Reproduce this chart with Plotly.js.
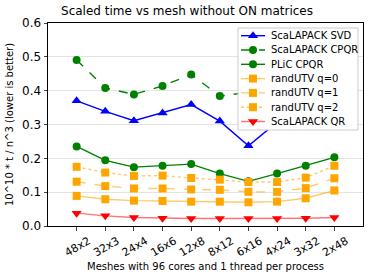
<!DOCTYPE html>
<html><head><meta charset="utf-8">
<script src="https://cdn.plot.ly/plotly-3.0.1.min.js"></script>
<style>html,body{margin:0;padding:0;background:#fff}#chart{width:374px;height:280px}</style>
</head><body><div id="chart"></div>
<script>
const meshes = ["48x2","32x3","24x4","16x6","12x8","8x12","6x16","4x24","3x32","2x48"];
const scalapackSVD  = [0.370,0.339,0.311,0.334,0.359,0.310,0.237,0.307,0.335,0.370];
const scalapackCPQR = [0.491,0.408,0.389,0.414,0.448,0.384,0.395,0.385,0.405,0.430];
const plicCPQR      = [0.235,0.194,0.174,0.178,0.183,0.155,0.132,0.155,0.178,0.203];
const randUTVq0     = [0.089,0.079,0.075,0.074,0.072,0.072,0.070,0.072,0.082,0.105];
const randUTVq1     = [0.131,0.118,0.111,0.111,0.108,0.107,0.101,0.101,0.112,0.141];
const randUTVq2     = [0.175,0.158,0.148,0.149,0.142,0.137,0.130,0.130,0.143,0.178];
const scalapackQR   = [0.038,0.030,0.025,0.023,0.022,0.022,0.022,0.022,0.023,0.025];
const seriesNames = ["ScaLAPACK SVD","ScaLAPACK CPQR","PLiC CPQR","randUTV q=0","randUTV q=1","randUTV q=2","ScaLAPACK QR"];

const xs = meshes.map((m,i)=>i);
const styles = [
  {color:"#0000ff", line:"#0000ff", dash:"solid", symbol:"triangle-up", size:9},
  {color:"#008000", line:"#008000", dash:"dash", symbol:"circle", size:8},
  {color:"#008000", line:"#008000", dash:"solid", symbol:"circle", size:8},
  {color:"#ffa500", line:"rgba(255,165,0,0.6)", dash:"solid", symbol:"square", size:8},
  {color:"#ffa500", line:"rgba(255,165,0,0.6)", dash:"dash", symbol:"square", size:8},
  {color:"#ffa500", line:"rgba(255,165,0,0.6)", dash:"dot", symbol:"square", size:8},
  {color:"#ff0000", line:"rgba(255,0,0,0.55)", dash:"solid", symbol:"triangle-down", size:9}
];
const allY = [scalapackSVD, scalapackCPQR, plicCPQR, randUTVq0, randUTVq1, randUTVq2, scalapackQR];

const data = allY.map((y,i)=>({
  x: xs, y: y, name: seriesNames[i], type:'scatter', mode:'lines+markers', showlegend:false,
  line:{color: styles[i].line, width:1.4, dash: styles[i].dash},
  marker:{color: styles[i].color, symbol: styles[i].symbol, size: styles[i].size}
}));
data.push({x:[0], y:[0], xaxis:'x2', yaxis:'y2', type:'scatter', mode:'markers', marker:{opacity:0}, showlegend:false, hoverinfo:'skip'});

const LW = 120, LH = 102, rowTop = 7.7, rowStep = 14.3;
const PW = 315, PH = 203;
const lx0 = 190/PW, lx1 = 310/PW, ly0 = 96/PH, ly1 = 198/PH;
const shapes = [{type:'rect', xref:'paper', yref:'paper', x0:lx0, x1:lx1, y0:ly0, y1:ly1, layer:'above',
  fillcolor:'rgba(255,255,255,0.9)', line:{color:'#cccccc', width:1}}];
const annotations = [];
function markerShape(st, cx, cy){
  const r = st.size/2;
  const base = {xref:'x2', yref:'y2', layer:'above', fillcolor: st.color, line:{width:0}};
  if(st.symbol==='circle') return Object.assign(base,{type:'circle', x0:cx-r, x1:cx+r, y0:cy-r, y1:cy+r});
  if(st.symbol==='square') return Object.assign(base,{type:'rect', x0:cx-r, x1:cx+r, y0:cy-r, y1:cy+r});
  const rt = r*2/Math.sqrt(3), r2 = r/2;
  if(st.symbol==='triangle-up') return Object.assign(base,{type:'path',
    path:`M${cx-rt},${cy+r2} L${cx+rt},${cy+r2} L${cx},${cy-r} Z`});
  return Object.assign(base,{type:'path', path:`M${cx-rt},${cy-r2} L${cx+rt},${cy-r2} L${cx},${cy+r} Z`});
}
seriesNames.forEach((n,i)=>{
  const yc = rowTop + i*rowStep, st = styles[i];
  shapes.push({type:'line', xref:'x2', yref:'y2', layer:'above', x0:3, x1:27, y0:yc, y1:yc,
    line:{color: st.line, width:1.4, dash: st.dash}});
  shapes.push(markerShape(st, 15, yc));
  annotations.push({xref:'x2', yref:'y2', x:31, y:yc, text:n, showarrow:false, xanchor:'left', yanchor:'middle',
    font:{size:10, color:'#000'}});
});

const layout = {
  width:374, height:280,
  margin:{l:48, r:11, t:23, b:54},
  paper_bgcolor:'#fff', plot_bgcolor:'#fff',
  font:{family:'DejaVu Sans', size:11, color:'#000'},
  title:{text:'Scaled time vs mesh without ON matrices', font:{size:12}, x:0.5, xanchor:'center', y:0.975, yanchor:'top'},
  xaxis:{domain:[0,1], range:[-1,10], tickmode:'array', tickvals:xs, ticktext:meshes, tickangle:-30,
    showgrid:false, zeroline:false, showline:true, mirror:true, linecolor:'#000', linewidth:1,
    ticks:'outside', ticklen:3.5, tickfont:{size:11}, ticklabelshift:12,
    title:{text:'Meshes with 96 cores and 1 thread per process', font:{size:10}, standoff:4}},
  yaxis:{domain:[0,1], range:[0,0.6], dtick:0.1, tickformat:'.1f', showgrid:true, gridcolor:'#e3e3e3',
    zeroline:false, showline:true, mirror:true, linecolor:'#000', linewidth:1,
    ticks:'outside', ticklen:3.5, tickfont:{size:12},
    title:{text:'10^10 * t / n^3 (lower is better)', font:{size:10}, standoff:6}},
  xaxis2:{domain:[lx0, lx1], range:[0,LW], visible:false, anchor:'y2', fixedrange:true},
  yaxis2:{domain:[ly0, ly1], range:[LH,0], visible:false, anchor:'x2', fixedrange:true},
  shapes: shapes,
  annotations: annotations,
  showlegend:false
};
Plotly.newPlot('chart', data, layout, {displayModeBar:false, staticPlot:true});
</script></body></html>
